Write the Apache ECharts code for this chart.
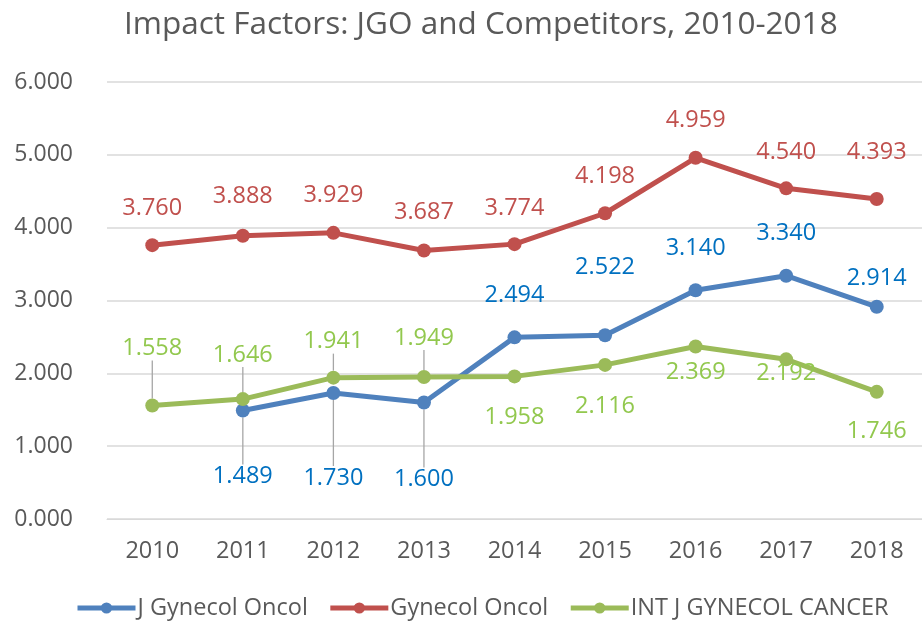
<!DOCTYPE html>
<html>
<head>
<meta charset="utf-8">
<script src="https://cdn.jsdelivr.net/npm/echarts@6/dist/echarts.min.js"></script>
<style>html,body{margin:0;padding:0;background:#fff}#c{width:922px;height:622px}</style>
</head>
<body>
<div id="c"></div>
<script>
var categories = ['2010','2011','2012','2013','2014','2015','2016','2017','2018'];
var seriesNames = ['J Gynecol Oncol','Gynecol Oncol','INT J GYNECOL CANCER'];
var jgo = [null, 1.489, 1.730, 1.600, 2.494, 2.522, 3.140, 3.340, 2.914];
var gyn = [3.760, 3.888, 3.929, 3.687, 3.774, 4.198, 4.959, 4.540, 4.393];
var ijgc = [1.558, 1.646, 1.941, 1.949, 1.958, 2.116, 2.369, 2.192, 1.746];

// label vertical offsets (px, relative to point) and leader-line flags
var jgoLabelDy = [0, 66, 85, 77, -42, -68, -42, -42, -28];
var gynLabelDy = [-37, -40, -38, -38, -36, -37, -38, -36, -47];
var ijgcLabelDy = [-57, -44, -36, -39, 41, 41, 26, 14, 39];
var jgoLeader = [false, true, true, true, false, false, false, false, false];
var ijgcLeader = [true, true, true, true, false, false, false, false, false];

var FONT = '"Open Sans", "Noto Sans", sans-serif';
var lineColors = ['#4F81BD', '#C0504D', '#9BBB59'];
var labelColors = ['#0070C0', '#C0504D', '#92C84E'];

function buildData(vals, leaders) {
  return vals.map(function (v, i) {
    var item = { value: v };
    if (leaders && leaders[i]) {
      item.labelLine = { show: true, lineStyle: { color: '#A6A6A6', width: 1.3 } };
    }
    return item;
  });
}

function makeSeries(idx, vals, dys, leaders) {
  return {
    name: seriesNames[idx],
    type: 'line',
    data: buildData(vals, leaders),
    symbol: 'circle',
    symbolSize: 14,
    connectNulls: false,
    z: idx === 2 ? 4 : 3,
    lineStyle: { color: lineColors[idx], width: 5 },
    itemStyle: { color: lineColors[idx] },
    label: {
      show: true,
      position: 'inside',
      color: labelColors[idx],
      fontFamily: FONT,
      fontSize: 23.5,
      formatter: function (p) { return p.value == null ? '' : Number(p.value).toFixed(3); }
    },
    labelLayout: function (p) { return { dy: dys[p.dataIndex] }; },
    animation: false
  };
}

var chart = echarts.init(document.getElementById('c'), null, { renderer: 'canvas' });
chart.setOption({
  backgroundColor: '#ffffff',
  animation: false,
  title: {
    text: 'Impact Factors: JGO and Competitors, 2010-2018',
    left: 119,
    top: 4,
    textStyle: { fontFamily: FONT, fontSize: 31.5, fontWeight: 'normal', color: '#595959' }
  },
  legend: {
    bottom: -3,
    left: 70,
    itemWidth: 58,
    itemHeight: 14,
    itemGap: 20,
    lineStyle: { width: 5 },
    textStyle: { fontFamily: FONT, fontSize: 23.5, color: '#595959', padding: [0, 0, 0, -3] },
    data: seriesNames
  },
  grid: { left: 107, right: -9, top: 82, bottom: 103, containLabel: false },
  xAxis: {
    type: 'category',
    data: categories,
    boundaryGap: true,
    axisLine: { show: true, lineStyle: { color: '#D9D9D9', width: 1 } },
    axisTick: { show: false },
    axisLabel: { fontFamily: FONT, fontSize: 23.5, color: '#595959', margin: 20 }
  },
  yAxis: {
    type: 'value',
    min: 0,
    max: 6,
    interval: 1,
    axisLine: { show: false },
    axisTick: { show: false },
    splitLine: { lineStyle: { color: '#D9D9D9', width: 1.5 } },
    axisLabel: {
      fontFamily: FONT, fontSize: 23, color: '#595959', margin: 34,
      formatter: function (v) { return v.toFixed(3); }
    }
  },
  series: [
    makeSeries(0, jgo, jgoLabelDy, jgoLeader),
    makeSeries(1, gyn, gynLabelDy, null),
    makeSeries(2, ijgc, ijgcLabelDy, ijgcLeader)
  ]
});
</script>
</body>
</html>
